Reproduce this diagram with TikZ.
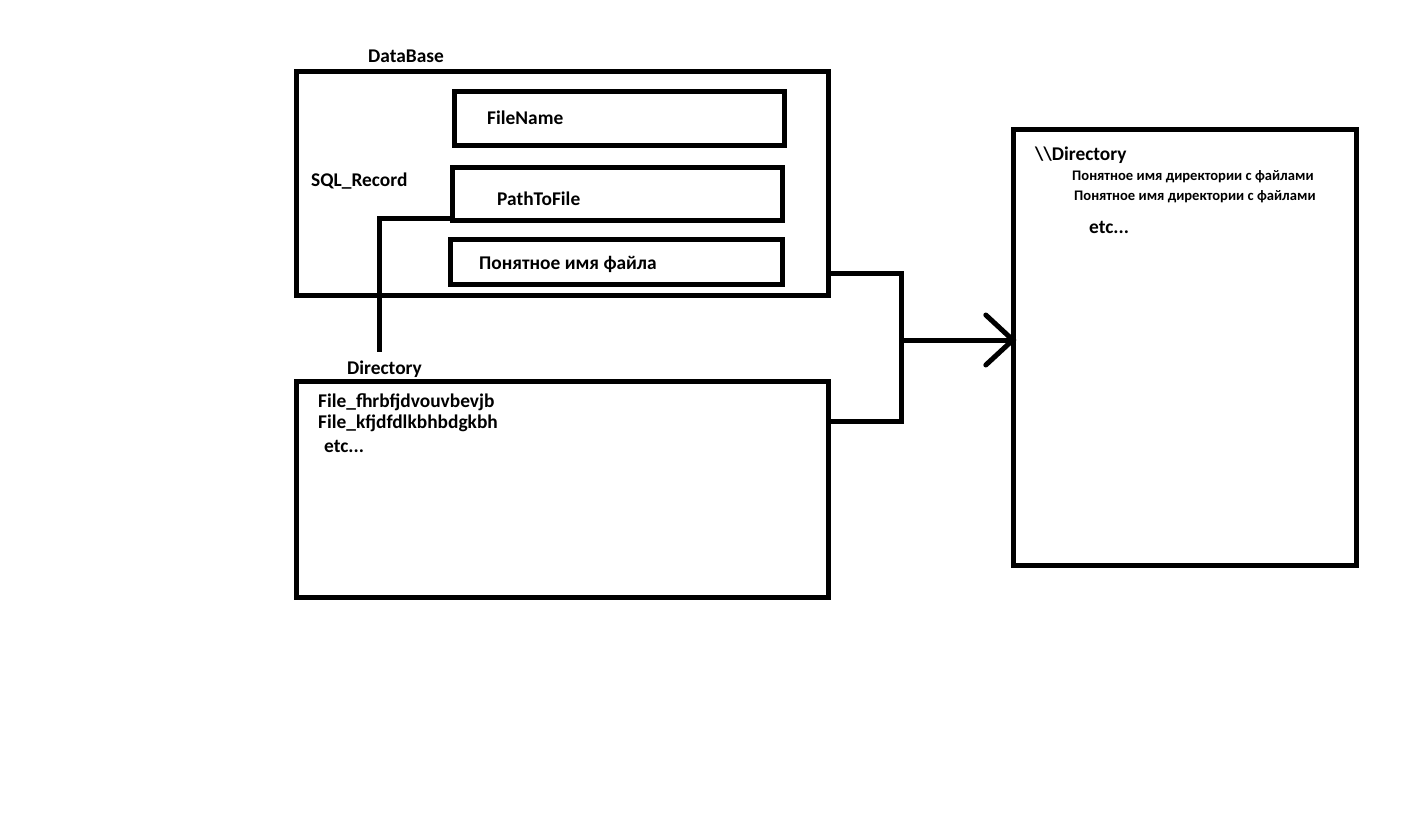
\documentclass[tikz,border=0pt]{standalone}
\usepackage{fontspec}
\setmainfont{Carlito}
\usepackage{xcolor}
\usepackage{tikz}
\usetikzlibrary{arrows.meta,positioning,calc}
\tikzset{
  bx/.style={draw, line width=5pt, inner sep=0pt, minimum width=#1},
  lbl/.style={inner sep=0pt, anchor=west, font=\bfseries\fontsize{19.4}{21}\selectfont},
  lblsm/.style={lbl, font=\bfseries\fontsize{14.6}{16}\selectfont},
  wire/.style={draw=black, line width=5pt},
  tip/.style={-{Straight Barb[length=27pt, width=50pt, line cap=round]}},
}
\begin{document}
\begin{tikzpicture}[x=1pt, y=-1pt]
  \useasboundingbox (0,0) rectangle (1427,821);
  % database and its fields
  \node[bx=532pt, minimum height=223pt] (db) at (562,183.5) {};
  \node[bx=330pt, minimum height=54pt] (fname) at (619,119) {};
  \node[bx=330pt, minimum height=53pt] (fpath) at (617,194.5) {};
  \node[bx=332pt, minimum height=44pt] (fhuman) at (616,262) {};
  \node[lbl] (dbl) at (368,56) {DataBase};
  \node[lbl] (rec) at (311,181) {SQL\_Record};
  \node[lbl] (fnamel) at (487,118) {FileName};
  \node[lbl] (fpathl) at (497,199) {PathToFile};
  \node[lbl] (fhumanl) at (479,264) {Понятное имя файла};
  % local directory
  \node[bx=532pt, minimum height=216pt] (dir) at (562,489) {};
  \node[lbl] (dirl) at (347,369) {Directory};
  \node[lbl] (f1) at (318,402) {File\_fhrbfjdvouvbevjb};
  \node[lbl] (f2) at (318,423) {File\_kfjdfdlkbhbdgkbh};
  \node[lbl] (f3) at (324,446) {etc...};
  % shared directory
  \node[bx=343pt, minimum height=435pt] (share) at (1184.5,347.5) {};
  \node[lbl] (sharel) at (1035,155) {\textbackslash\textbackslash Directory};
  \node[lblsm] (s1) at (1072,177) {Понятное имя директории с файлами};
  \node[lblsm] (s2) at (1074,197) {Понятное имя директории с файлами};
  \node[lbl] (s3) at (1089,227) {etc...};
  % connectors
  \coordinate (pk) at (379,352);
  \coordinate (jn) at (901,340);
  \draw[wire] ([yshift=5pt]fpath.south west) -| (pk);
  \draw[wire] ([yshift=24pt]db.south east) -| (jn) |- ([yshift=-43pt]dir.north east);
  \draw[wire, tip] (jn) -- ([xshift=6pt]jn -| share.west);
\end{tikzpicture}
\end{document}
